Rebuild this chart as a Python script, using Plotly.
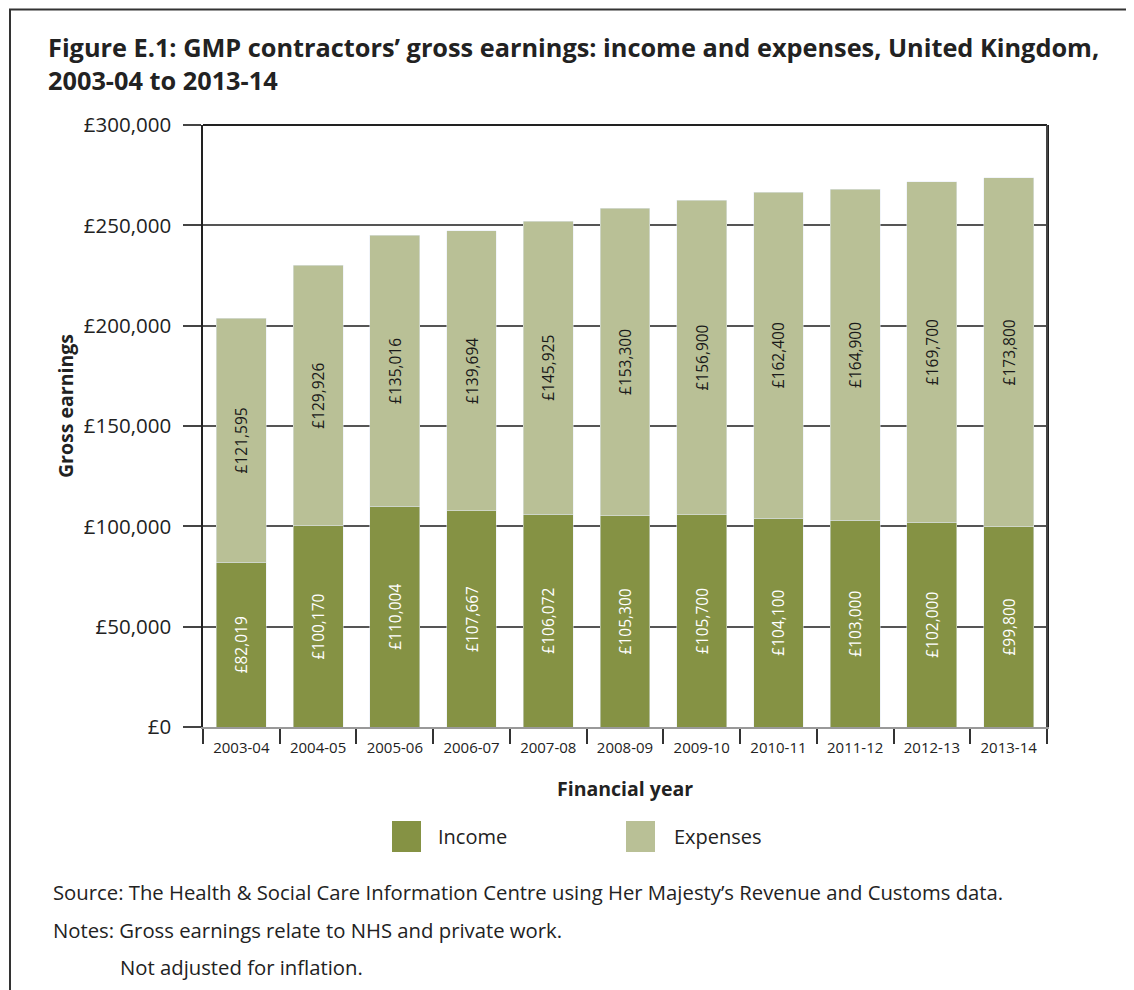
import plotly.graph_objects as go

years = ["2003-04", "2004-05", "2005-06", "2006-07", "2007-08", "2008-09",
         "2009-10", "2010-11", "2011-12", "2012-13", "2013-14"]
income = [82019, 100170, 110004, 107667, 106072, 105300, 105700, 104100, 103000, 102000, 99800]
expenses = [121595, 129926, 135016, 139694, 145925, 153300, 156900, 162400, 164900, 169700, 173800]
y_ticks = [0, 50000, 100000, 150000, 200000, 250000, 300000]
y_tick_labels = ["£0", "£50,000", "£100,000", "£150,000", "£200,000", "£250,000", "£300,000"]

INCOME_COLOR = "#859244"
EXPENSE_COLOR = "#b9c096"
FONT = "Open Sans"
TXT = "#222"

W, H = 1134, 990
OFF = 8  # page body margin
# plot area in page pixels
L, R, T, B = 203, 1047, 125, 727


def px(xp):
    return (xp - L) / (R - L)


def py(yp):
    return (B - yp) / (B - T)


fig = go.Figure()
fig.add_trace(go.Bar(
    x=years, y=income, name="Income", marker_color=INCOME_COLOR,
    text=[f"£{v:,}" for v in income], textposition="inside",
    insidetextanchor="middle", textangle=-90, constraintext="none",
    textfont=dict(color="white", size=15.5, family=FONT),
))
fig.add_trace(go.Bar(
    x=years, y=expenses, name="Expenses", marker_color=EXPENSE_COLOR,
    text=[f"£{v:,}" for v in expenses], textposition="inside",
    insidetextanchor="middle", textangle=-90, constraintext="none",
    textfont=dict(color="#1a1a1a", size=15.5, family=FONT),
))

annotations = [
    dict(text="<b>Figure E.1: GMP contractors’ gross earnings: income and expenses, United Kingdom,<br>2003-04 to 2013-14</b>",
         x=px(46), y=py(63), xanchor="left", yanchor="middle", align="left",
         font=dict(size=25.3, color=TXT, family=FONT)),
    dict(text="<b>Gross earnings</b>", x=px(65), y=py(406), textangle=-90,
         xanchor="center", yanchor="middle", font=dict(size=19.5, color=TXT, family=FONT)),
    dict(text="<b>Financial year</b>", x=px(625), y=py(788),
         xanchor="center", yanchor="middle", font=dict(size=19.5, color=TXT, family=FONT)),
    dict(text="Income", x=px(436), y=py(836), xanchor="left", yanchor="middle",
         font=dict(size=20, color=TXT, family=FONT)),
    dict(text="Expenses", x=px(672), y=py(836), xanchor="left", yanchor="middle",
         font=dict(size=20, color=TXT, family=FONT)),
    dict(text="Source: The Health &amp; Social Care Information Centre using Her Majesty’s Revenue and Customs data.",
         x=px(51), y=py(892), xanchor="left", yanchor="middle",
         font=dict(size=20.3, color=TXT, family=FONT)),
    dict(text="Notes: Gross earnings relate to NHS and private work.",
         x=px(51), y=py(930), xanchor="left", yanchor="middle",
         font=dict(size=20.3, color=TXT, family=FONT)),
    dict(text="Not adjusted for inflation.",
         x=px(118), y=py(967), xanchor="left", yanchor="middle",
         font=dict(size=20.3, color=TXT, family=FONT)),
]
for a in annotations:
    a.update(xref="paper", yref="paper", showarrow=False)

shapes = [
    dict(type="rect", xref="paper", yref="paper", x0=px(10), x1=px(1160), y0=py(1010), y1=py(9.5),
         line=dict(color="#333", width=2), fillcolor="rgba(0,0,0,0)", layer="below"),
    dict(type="rect", xref="paper", yref="paper", x0=px(392), x1=px(421), y0=py(852), y1=py(821),
         line=dict(width=0), fillcolor=INCOME_COLOR),
    dict(type="rect", xref="paper", yref="paper", x0=px(626), x1=px(655), y0=py(852), y1=py(821),
         line=dict(width=0), fillcolor=EXPENSE_COLOR),
    dict(type="line", xref="paper", yref="paper", x0=0, x1=1, y0=1, y1=1,
         line=dict(color="#222", width=2)),
    dict(type="line", xref="paper", yref="paper", x0=1, x1=1, y0=0, y1=1,
         line=dict(color="#444", width=2)),
]

fig.update_layout(
    width=W, height=H,
    margin=dict(l=L - OFF, r=W - (R - OFF), t=T - OFF, b=H - (B - OFF), pad=0),
    barmode="stack", bargap=0.35,
    showlegend=False,
    paper_bgcolor="white", plot_bgcolor="white",
    font=dict(family=FONT, color=TXT),
    annotations=annotations, shapes=shapes,
)
fig.update_xaxes(
    type="category", showline=True, linecolor="#999", linewidth=1.5, mirror=False,
    ticks="outside", tickson="boundaries", ticklen=15, tickwidth=1.5, tickcolor="#333",
    ticklabelstandoff=6,
    tickfont=dict(size=15, color=TXT, family=FONT), showgrid=False,
)
fig.update_yaxes(
    range=[0, 300000], tickvals=y_ticks, ticktext=y_tick_labels,
    showline=True, linecolor="#222", linewidth=1.5, mirror=True,
    ticks="outside", ticklen=18, tickwidth=1.5, tickcolor="#444",
    ticklabelstandoff=8,
    tickfont=dict(size=20.5, color=TXT, family=FONT),
    showgrid=True, gridcolor="#555", gridwidth=1.5, zeroline=False,
)

fig.write_html("out.html")
